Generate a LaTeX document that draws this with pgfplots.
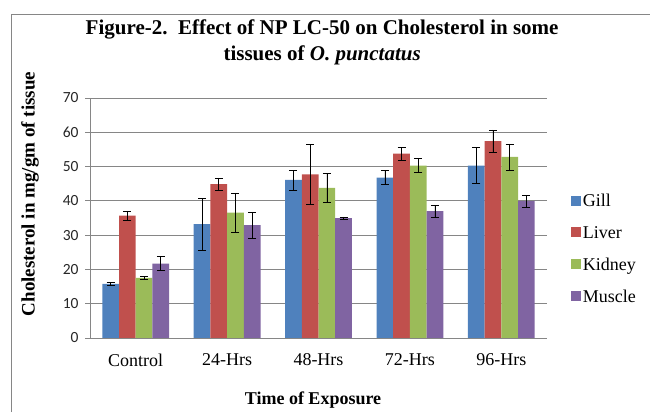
\documentclass[border=0pt]{standalone}
\usepackage{fontspec}
\setmainfont{Liberation Serif}
\newfontfamily\calibri{Carlito}
\usepackage{pgfplots}
\pgfplotsset{compat=1.18}

\definecolor{gill}{HTML}{4F81BD}
\definecolor{liver}{HTML}{C0504D}
\definecolor{kidney}{HTML}{9BBB59}
\definecolor{muscle}{HTML}{8064A2}
\definecolor{gridc}{HTML}{868686}

% x = category (0 Control ... 4 96-Hrs), y = mean, e = error
\pgfplotstableread{
x y e
0 15.8 0.5
1 33.2 7.6
2 46.1 2.9
3 46.8 2.0
4 50.3 5.3
}\gill
\pgfplotstableread{
x y e
0 35.7 1.4
1 44.9 1.8
2 47.7 8.7
3 53.8 1.9
4 57.4 3.3
}\liver
\pgfplotstableread{
x y e
0 17.5 0.5
1 36.6 5.7
2 43.8 4.1
3 50.3 2.0
4 52.8 3.8
}\kidney
\pgfplotstableread{
x y e
0 21.7 2.0
1 32.9 3.7
2 35.0 0.3
3 37.0 1.8
4 39.9 1.7
}\muscle

\begin{document}
\begin{tikzpicture}
\useasboundingbox (0,0) rectangle (650pt,412pt);
\draw[gridc, line width=0.8pt] (11pt,0) -- (11pt,398pt) -- (650pt,398pt);
\begin{axis}[
    at={(90pt,74pt)}, anchor=south west,
    scale only axis,
    width=457pt, height=240pt,
    ybar=0pt, bar width=16.7pt,
    xmin=-0.5, xmax=4.5,
    ymin=0, ymax=70,
    ytick={0,10,...,70},
    xtick=data,
    xticklabels={Control,24-Hrs,48-Hrs,72-Hrs,96-Hrs},
    axis x line*=bottom, axis y line*=left,
    axis line style={gridc, line width=0.8pt, -},
    ymajorgrids, grid style={gridc, line width=0.8pt},
    major x tick style={draw=none},
    major y tick style={gridc, line width=0.8pt},
    tick align=outside, major tick length=5pt,
    /pgf/number format/assume math mode=true,
    yticklabel style={font=\calibri\fontsize{15.5}{18}\selectfont, text=black!85, xshift=-3pt},
    xticklabel style={font=\fontsize{18}{20}\selectfont, yshift=-7pt},
    title={Figure-2.\ \ Effect of NP LC-50 on Cholesterol in some\\tissues of \textit{O. punctatus}},
    title style={font=\bfseries\fontsize{21}{26}\selectfont, align=center,
        at={(rel axis cs:0.508,1.205)}, anchor=center},
    xlabel={Time of Exposure},
    xlabel style={font=\bfseries\fontsize{18}{20}\selectfont,
        at={(rel axis cs:0.488,-0.258)}, anchor=center},
    ylabel={Cholesterol in mg/gm of tissue},
    ylabel style={font=\bfseries\fontsize{19}{20}\selectfont,
        at={(rel axis cs:-0.131,0.6)}, anchor=center, rotate=0},
    legend style={draw=none, fill=none, at={(rel axis cs:1.052,0.37)}, anchor=west,
        font=\fontsize{18}{20}\selectfont, row sep=14pt, inner sep=0pt},
    legend cell align=left,
    legend image code/.code={\fill[#1] (0pt,-4pt) rectangle (10pt,6pt);},
    error bars/y dir=both, error bars/y explicit,
    error bars/error mark=|,
    error bars/error mark options={black, mark size=4pt, line width=0.6pt},
    error bars/error bar style={black, line width=0.6pt},
]
\addplot[fill=gill, draw=none] table[x=x, y=y, y error=e] {\gill};
\addplot[fill=liver, draw=none] table[x=x, y=y, y error=e] {\liver};
\addplot[fill=kidney, draw=none] table[x=x, y=y, y error=e] {\kidney};
\addplot[fill=muscle, draw=none] table[x=x, y=y, y error=e] {\muscle};
\legend{Gill,Liver,Kidney,Muscle}
\end{axis}
\end{tikzpicture}
\end{document}
